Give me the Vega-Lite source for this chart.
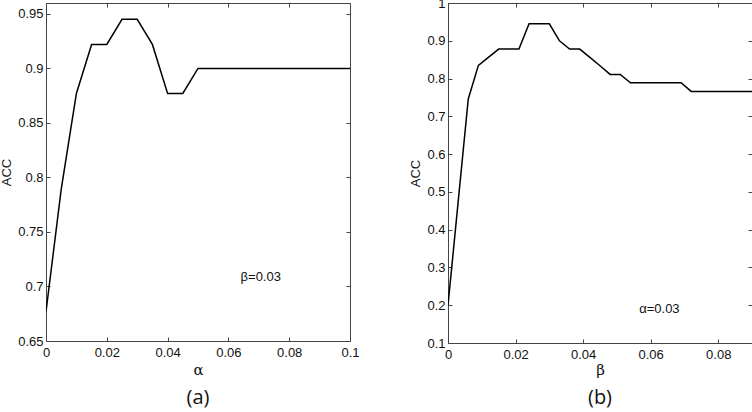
{
  "$schema": "https://vega.github.io/schema/vega-lite/v6.json",
  "padding": {"left": 0, "top": -4, "right": 0, "bottom": 0},
  "background": "white",
  "config": {
    "view": {"stroke": "#444", "strokeWidth": 1},
    "axis": {
      "grid": false,
      "domain": false,
      "tickColor": "#444",
      "tickSize": -4,
      "format": "~g",
      "labelFont": "Liberation Sans",
      "labelFontSize": 13,
      "labelColor": "#111",
      "titleFont": "Liberation Sans",
      "titleFontWeight": "normal",
      "titleFontSize": 13,
      "titleColor": "#111"
    },
    "title": {"font": "Open Sans", "fontSize": 20, "fontWeight": "normal", "color": "#111", "orient": "bottom", "offset": 11}
  },
  "datasets": {
    "a": [
      {"alpha": 0, "acc": 0.677},
      {"alpha": 0.005, "acc": 0.789},
      {"alpha": 0.01, "acc": 0.877},
      {"alpha": 0.015, "acc": 0.922},
      {"alpha": 0.02, "acc": 0.922},
      {"alpha": 0.025, "acc": 0.945},
      {"alpha": 0.03, "acc": 0.945},
      {"alpha": 0.035, "acc": 0.922},
      {"alpha": 0.04, "acc": 0.877},
      {"alpha": 0.045, "acc": 0.877},
      {"alpha": 0.05, "acc": 0.9},
      {"alpha": 0.1, "acc": 0.9}
    ],
    "b": [
      {"beta": 0, "acc": 0.2},
      {"beta": 0.006, "acc": 0.746},
      {"beta": 0.009, "acc": 0.835},
      {"beta": 0.015, "acc": 0.878},
      {"beta": 0.021, "acc": 0.878},
      {"beta": 0.024, "acc": 0.945},
      {"beta": 0.03, "acc": 0.945},
      {"beta": 0.033, "acc": 0.9},
      {"beta": 0.036, "acc": 0.878},
      {"beta": 0.039, "acc": 0.878},
      {"beta": 0.042, "acc": 0.856},
      {"beta": 0.045, "acc": 0.834},
      {"beta": 0.048, "acc": 0.811},
      {"beta": 0.051, "acc": 0.811},
      {"beta": 0.054, "acc": 0.789},
      {"beta": 0.069, "acc": 0.789},
      {"beta": 0.072, "acc": 0.766},
      {"beta": 0.09, "acc": 0.766}
    ],
    "la": [{"x": 0.064, "y": 0.709, "t": "β=0.03"}],
    "lb": [{"x": 0.0566, "y": 0.189, "t": "α=0.03"}]
  },
  "hconcat": [
    {
      "width": 304,
      "height": 338,
      "title": "(a)",
      "layer": [
        {
          "data": {"name": "a"},
          "mark": {"type": "line", "color": "black", "strokeWidth": 1.5, "clip": true},
          "encoding": {
            "x": {"field": "alpha", "type": "quantitative", "scale": {"domain": [0, 0.1], "nice": false, "zero": false},
              "axis": {"orient": "bottom", "values": [0, 0.02, 0.04, 0.06, 0.08, 0.1], "title": "α", "titleFont": "DejaVu Serif", "titleFontSize": 15, "titlePadding": 3, "labelPadding": 9, "labelFlush": false}},
            "y": {"field": "acc", "type": "quantitative", "scale": {"domain": [0.65, 0.96], "nice": false, "zero": false},
              "axis": {"orient": "left", "values": [0.65, 0.7, 0.75, 0.8, 0.85, 0.9, 0.95], "title": "ACC", "titlePadding": 4, "labelPadding": 7, "labelFlush": false}}
          }
        },
        {
          "data": {"name": "a"},
          "mark": {"type": "line", "opacity": 0},
          "encoding": {
            "x": {"field": "alpha", "type": "quantitative", "scale": {"domain": [0, 0.1], "nice": false, "zero": false},
              "axis": {"orient": "top", "values": [0, 0.02, 0.04, 0.06, 0.08, 0.1], "labels": false, "title": null, "minExtent": 0, "maxExtent": 0, "labelPadding": 0}},
            "y": {"field": "acc", "type": "quantitative", "scale": {"domain": [0.65, 0.96], "nice": false, "zero": false},
              "axis": {"orient": "right", "values": [0.65, 0.7, 0.75, 0.8, 0.85, 0.9, 0.95], "labels": false, "title": null, "minExtent": 0, "maxExtent": 0, "labelPadding": 0}}
          }
        },
        {
          "data": {"name": "la"},
          "mark": {"type": "text", "align": "left", "baseline": "middle", "font": "Liberation Sans", "fontSize": 13, "color": "#111"},
          "encoding": {
            "x": {"field": "x", "type": "quantitative", "axis": null},
            "y": {"field": "y", "type": "quantitative", "axis": null},
            "text": {"field": "t"}
          }
        }
      ],
      "resolve": {"axis": {"x": "independent", "y": "independent"}}
    },
    {
      "width": 304,
      "height": 340,
      "title": "(b)",
      "layer": [
        {
          "data": {"name": "b"},
          "mark": {"type": "line", "color": "black", "strokeWidth": 1.5, "clip": true},
          "encoding": {
            "x": {"field": "beta", "type": "quantitative", "scale": {"domain": [0, 0.09], "nice": false, "zero": false},
              "axis": {"orient": "bottom", "values": [0, 0.02, 0.04, 0.06, 0.08], "title": "β", "titleFont": "DejaVu Serif", "titleFontSize": 15, "titlePadding": 1, "labelPadding": 9, "labelFlush": false}},
            "y": {"field": "acc", "type": "quantitative", "scale": {"domain": [0.1, 1], "nice": false, "zero": false},
              "axis": {"orient": "left", "values": [0.1, 0.2, 0.3, 0.4, 0.5, 0.6, 0.7, 0.8, 0.9, 1], "title": "ACC", "titlePadding": 4, "labelPadding": 7, "labelFlush": false}}
          }
        },
        {
          "data": {"name": "b"},
          "mark": {"type": "line", "opacity": 0},
          "encoding": {
            "x": {"field": "beta", "type": "quantitative", "scale": {"domain": [0, 0.09], "nice": false, "zero": false},
              "axis": {"orient": "top", "values": [0, 0.02, 0.04, 0.06, 0.08], "labels": false, "title": null, "minExtent": 0, "maxExtent": 0, "labelPadding": 0}},
            "y": {"field": "acc", "type": "quantitative", "scale": {"domain": [0.1, 1], "nice": false, "zero": false},
              "axis": {"orient": "right", "values": [0.1, 0.2, 0.3, 0.4, 0.5, 0.6, 0.7, 0.8, 0.9, 1], "labels": false, "title": null, "minExtent": 0, "maxExtent": 0, "labelPadding": 0}}
          }
        },
        {
          "data": {"name": "lb"},
          "mark": {"type": "text", "align": "left", "baseline": "middle", "font": "Liberation Sans", "fontSize": 13, "color": "#111"},
          "encoding": {
            "x": {"field": "x", "type": "quantitative", "axis": null},
            "y": {"field": "y", "type": "quantitative", "axis": null},
            "text": {"field": "t"}
          }
        }
      ],
      "resolve": {"axis": {"x": "independent", "y": "independent"}}
    }
  ],
  "spacing": 49
}
